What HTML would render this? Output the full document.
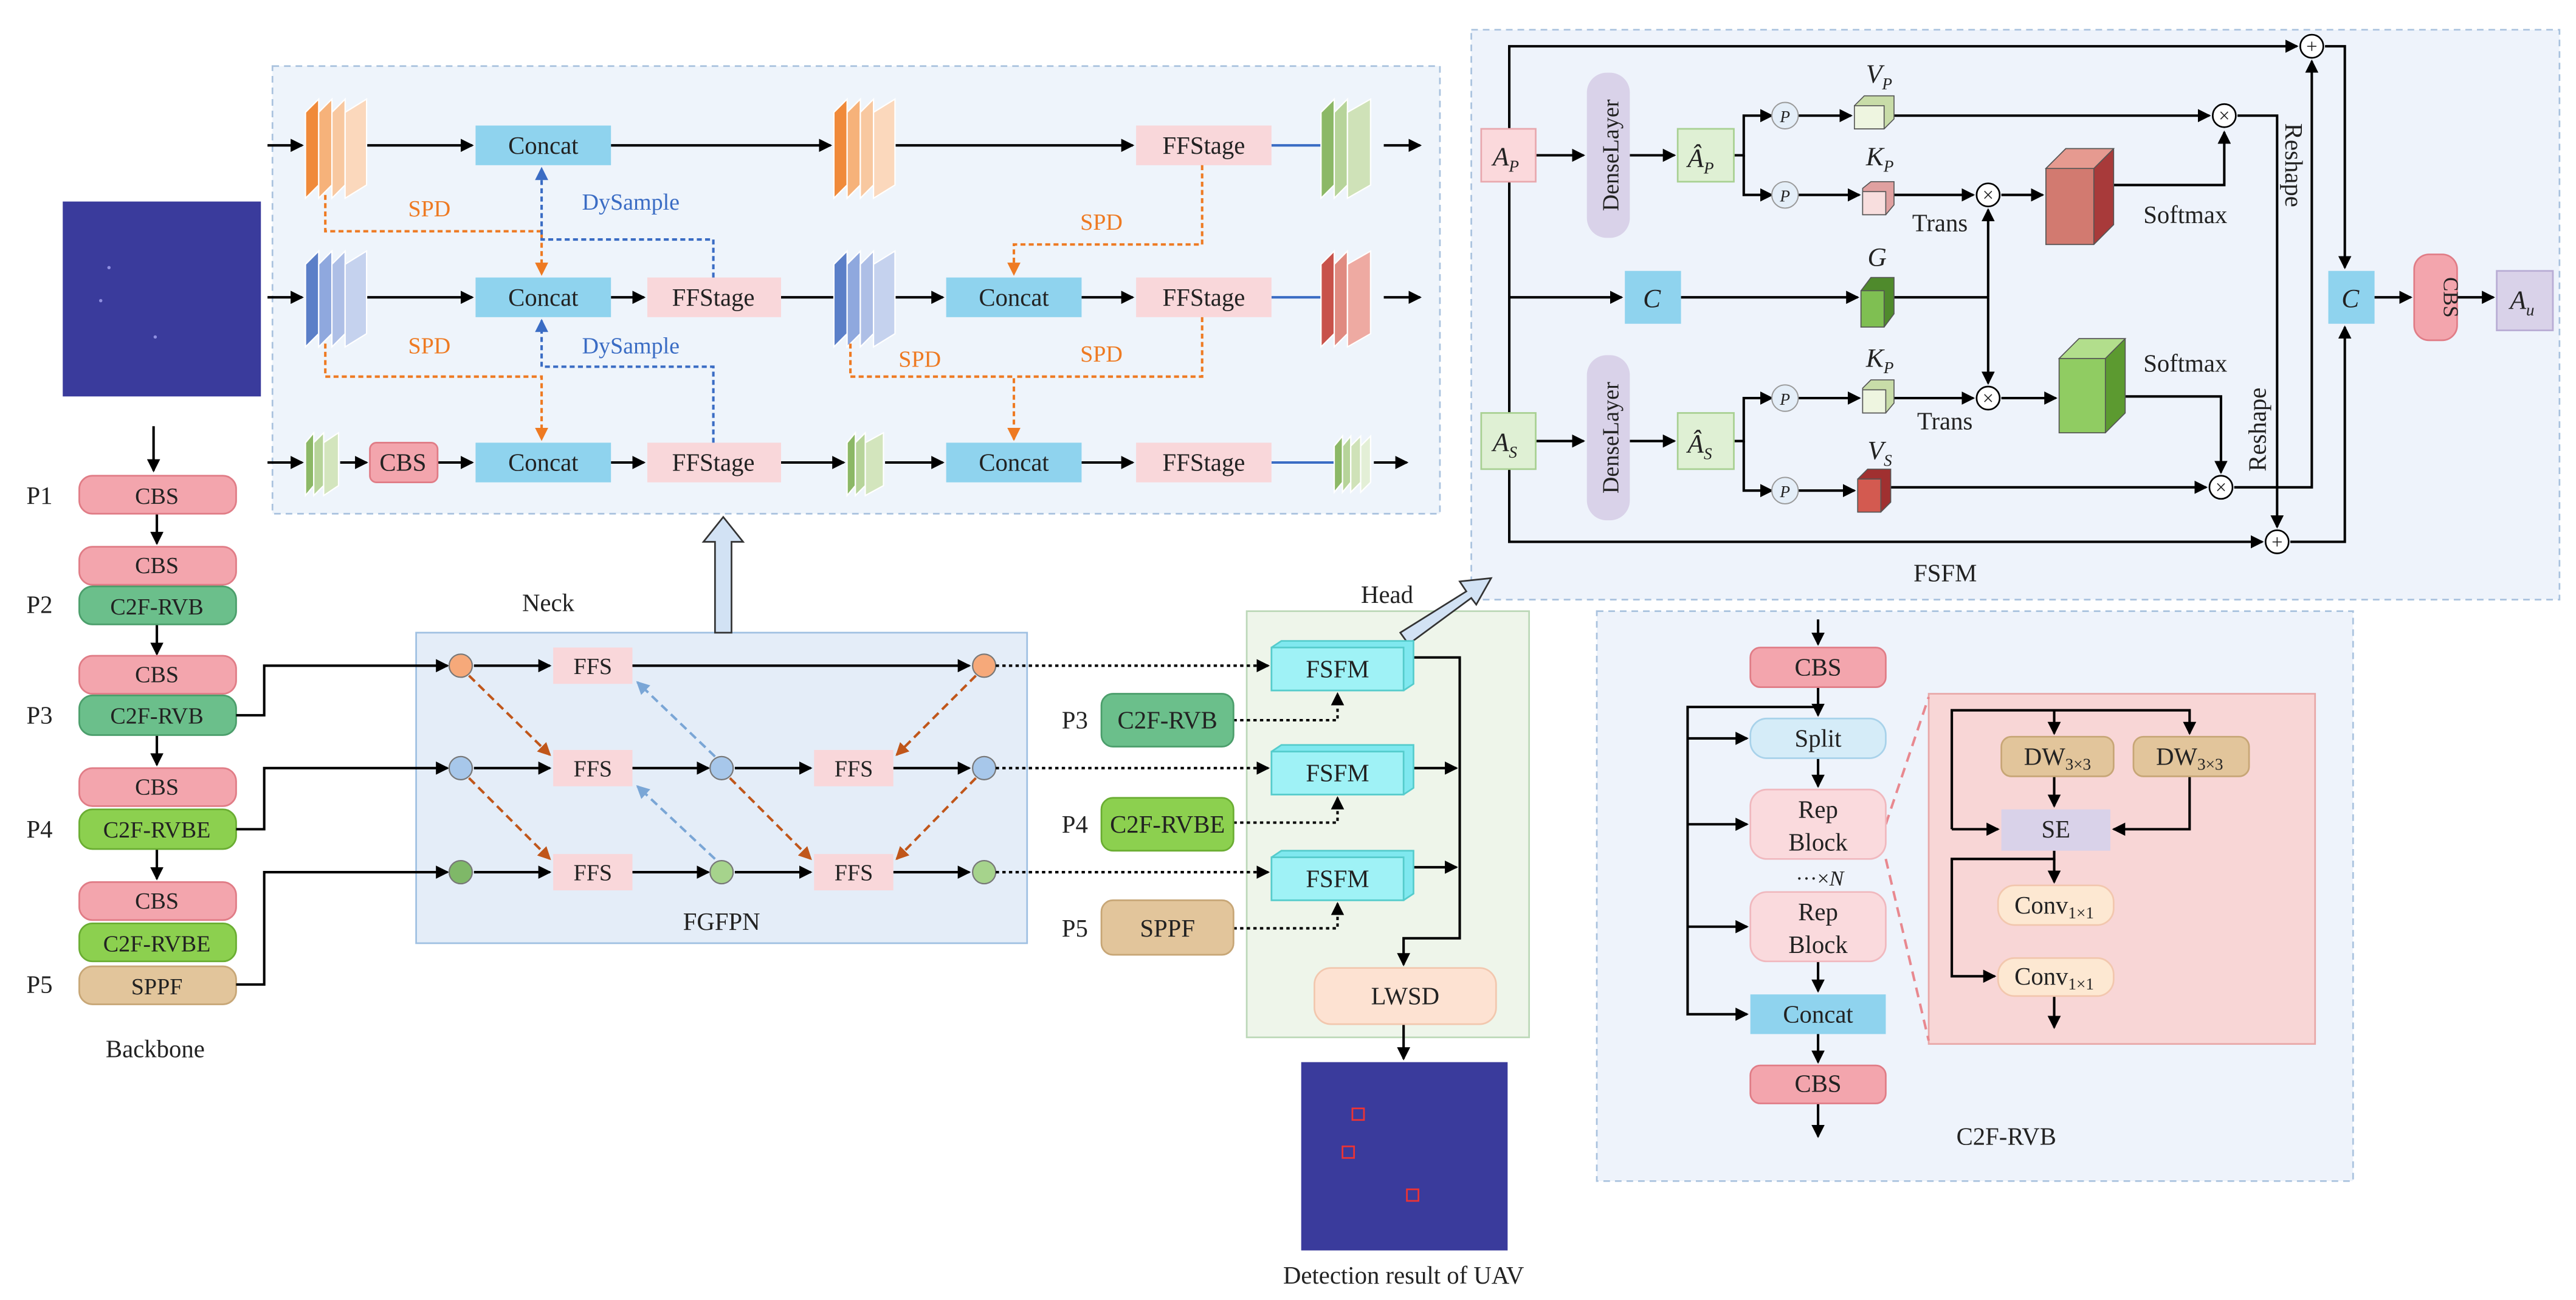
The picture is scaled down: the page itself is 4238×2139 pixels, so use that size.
<!DOCTYPE html>
<html><head><meta charset="utf-8"><style>
html,body{margin:0;padding:0;background:#fff}
svg{display:block}
text{font-family:"Liberation Serif",serif;fill:#222}
</style></head><body>
<svg width="4238" height="2139" viewBox="0 0 1560 787" preserveAspectRatio="none" xmlns="http://www.w3.org/2000/svg">
<defs>
<marker id="a" markerWidth="8" markerHeight="8" refX="7" refY="4" orient="auto" markerUnits="userSpaceOnUse"><path d="M0,0 L8,4 L0,8 z" fill="#000"/></marker>
<marker id="ao" markerWidth="8" markerHeight="8" refX="7" refY="4" orient="auto" markerUnits="userSpaceOnUse"><path d="M0,0 L8,4 L0,8 z" fill="#ee7a22"/></marker>
<marker id="ab" markerWidth="8" markerHeight="8" refX="7" refY="4" orient="auto" markerUnits="userSpaceOnUse"><path d="M0,0 L8,4 L0,8 z" fill="#3a6cc4"/></marker>
<marker id="abr" markerWidth="8" markerHeight="8" refX="7" refY="4" orient="auto" markerUnits="userSpaceOnUse"><path d="M0,0 L8,4 L0,8 z" fill="#c0561a"/></marker>
<marker id="alb" markerWidth="8" markerHeight="8" refX="7" refY="4" orient="auto" markerUnits="userSpaceOnUse"><path d="M0,0 L8,4 L0,8 z" fill="#7aa6d6"/></marker>
</defs>

<!-- panels -->
<rect x="165" y="40" width="707" height="271" fill="#eef4fb" stroke="#a9c2de" stroke-dasharray="4,3"/>
<rect x="891" y="18" width="659" height="345" fill="#eef3fb" stroke="#a9c2de" stroke-dasharray="4,3"/>
<rect x="967" y="370" width="458" height="345" fill="#eef3fb" stroke="#a9c2de" stroke-dasharray="4,3"/>
<rect x="252" y="383" width="370" height="188" fill="#e4edf8" stroke="#9fc0e2"/>
<rect x="755" y="370" width="171" height="258" fill="#eef5ea" stroke="#bcd8b8"/>

<!-- Backbone -->
<rect x="38" y="122" width="120" height="118" fill="#3a3b9c"/>
<circle cx="66" cy="162" r="1" fill="#8f8fe0"/><circle cx="61" cy="182" r="1" fill="#8f8fe0"/><circle cx="94" cy="204" r="1" fill="#8f8fe0"/>
<g stroke="#000" stroke-width="1.5" fill="none">
<line x1="93" y1="258" x2="93" y2="285" marker-end="url(#a)"/>
<line x1="95" y1="311" x2="95" y2="329" marker-end="url(#a)"/>
<line x1="95" y1="378" x2="95" y2="396" marker-end="url(#a)"/>
<line x1="95" y1="445" x2="95" y2="463" marker-end="url(#a)"/>
<line x1="95" y1="514" x2="95" y2="532" marker-end="url(#a)"/>
</g>
<g font-size="14" text-anchor="middle">
<rect x="48" y="288" width="95" height="23" rx="8" fill="#f3a5ad" stroke="#e07c86"/><text x="95" y="305">CBS</text>
<rect x="48" y="331" width="95" height="23" rx="8" fill="#f3a5ad" stroke="#e07c86"/><text x="95" y="347">CBS</text>
<rect x="48" y="355" width="95" height="23" rx="8" fill="#6bbf8b" stroke="#4b9e6b"/><text x="95" y="372">C2F-RVB</text>
<rect x="48" y="397" width="95" height="23" rx="8" fill="#f3a5ad" stroke="#e07c86"/><text x="95" y="413">CBS</text>
<rect x="48" y="421" width="95" height="24" rx="8" fill="#6bbf8b" stroke="#4b9e6b"/><text x="95" y="438">C2F-RVB</text>
<rect x="48" y="465" width="95" height="23" rx="8" fill="#f3a5ad" stroke="#e07c86"/><text x="95" y="481">CBS</text>
<rect x="48" y="490" width="95" height="24" rx="8" fill="#8cd04f" stroke="#6aad32"/><text x="95" y="507">C2F-RVBE</text>
<rect x="48" y="534" width="95" height="23" rx="8" fill="#f3a5ad" stroke="#e07c86"/><text x="95" y="550">CBS</text>
<rect x="48" y="559" width="95" height="23" rx="8" fill="#8cd04f" stroke="#6aad32"/><text x="95" y="576">C2F-RVBE</text>
<rect x="48" y="585" width="95" height="23" rx="8" fill="#e2c59b" stroke="#c7a676"/><text x="95" y="602">SPPF</text>
</g>
<g font-size="15"><text x="16" y="305">P1</text><text x="16" y="371">P2</text><text x="16" y="438">P3</text><text x="16" y="507">P4</text><text x="16" y="601">P5</text>
<text x="94" y="640" text-anchor="middle">Backbone</text></g>

<!-- Neck top panel -->
<g stroke="#000" stroke-width="1.5" fill="none">
<line x1="162" y1="88" x2="183" y2="88" marker-end="url(#a)"/>
<line x1="222" y1="88" x2="286" y2="88" marker-end="url(#a)"/>
<line x1="370" y1="88" x2="503" y2="88" marker-end="url(#a)"/>
<line x1="542" y1="88" x2="686" y2="88" marker-end="url(#a)"/>
<line x1="838" y1="88" x2="860" y2="88" marker-end="url(#a)"/>
<line x1="162" y1="180" x2="183" y2="180" marker-end="url(#a)"/>
<line x1="222" y1="180" x2="286" y2="180" marker-end="url(#a)"/>
<line x1="370" y1="180" x2="390" y2="180" marker-end="url(#a)"/>
<line x1="473" y1="180" x2="505" y2="180"/>
<line x1="542" y1="180" x2="571" y2="180" marker-end="url(#a)"/>
<line x1="655" y1="180" x2="686" y2="180" marker-end="url(#a)"/>
<line x1="838" y1="180" x2="860" y2="180" marker-end="url(#a)"/>
<line x1="162" y1="280" x2="183" y2="280" marker-end="url(#a)"/>
<line x1="206" y1="280" x2="222" y2="280" marker-end="url(#a)"/>
<line x1="265" y1="280" x2="286" y2="280" marker-end="url(#a)"/>
<line x1="370" y1="280" x2="390" y2="280" marker-end="url(#a)"/>
<line x1="473" y1="280" x2="511" y2="280" marker-end="url(#a)"/>
<line x1="536" y1="280" x2="571" y2="280" marker-end="url(#a)"/>
<line x1="655" y1="280" x2="686" y2="280" marker-end="url(#a)"/>
<line x1="832" y1="280" x2="852" y2="280" marker-end="url(#a)"/>
</g>
<g stroke="#3a6cc4" stroke-width="1.5"><line x1="770" y1="88" x2="800" y2="88"/><line x1="770" y1="180" x2="800" y2="180"/><line x1="770" y1="280" x2="808" y2="280"/></g>
<!-- stacks -->
<g stroke="#fff" stroke-width="0.8">
<polygon points="185,68 193,60 193,112 185,120" fill="#f08a3a"/><polygon points="193,68 201,60 201,112 193,120" fill="#f6b27a"/><polygon points="201,68 209,60 209,112 201,120" fill="#f8c8a0"/><polygon points="209,68 222,60 222,112 209,120" fill="#fbd8bc"/>
<polygon points="505,68 513,60 513,112 505,120" fill="#f08a3a"/><polygon points="513,68 521,60 521,112 513,120" fill="#f6b27a"/><polygon points="521,68 529,60 529,112 521,120" fill="#f8c8a0"/><polygon points="529,68 542,60 542,112 529,120" fill="#fbd8bc"/>
<polygon points="185,160 193,152 193,202 185,210" fill="#5b7fc8"/><polygon points="193,160 201,152 201,202 193,210" fill="#8fa8de"/><polygon points="201,160 209,152 209,202 201,210" fill="#aebfe6"/><polygon points="209,160 222,152 222,202 209,210" fill="#c5d2ee"/>
<polygon points="505,160 513,152 513,202 505,210" fill="#5b7fc8"/><polygon points="513,160 521,152 521,202 513,210" fill="#8fa8de"/><polygon points="521,160 529,152 529,202 521,210" fill="#aebfe6"/><polygon points="529,160 542,152 542,202 529,210" fill="#c5d2ee"/>
<polygon points="800,68 808,60 808,112 800,120" fill="#8cb866"/><polygon points="808,68 816,60 816,112 808,120" fill="#b7d49a"/><polygon points="816,68 830,60 830,112 816,120" fill="#cfe2b8"/>
<polygon points="800,160 808,152 808,202 800,210" fill="#c8524a"/><polygon points="808,160 816,152 816,202 808,210" fill="#e08a80"/><polygon points="816,160 830,152 830,202 816,210" fill="#eeaaa2"/>
<polygon points="185,268 190,262 190,294 185,300" fill="#8cb866"/><polygon points="190,268 196,262 196,294 190,300" fill="#b7d49a"/><polygon points="196,268 205,262 205,294 196,300" fill="#d3e5bd"/>
<polygon points="513,268 518,262 518,294 513,300" fill="#8cb866"/><polygon points="518,268 524,262 524,294 518,300" fill="#b7d49a"/><polygon points="524,268 535,262 535,294 524,300" fill="#d3e5bd"/>
<polygon points="808,270 813,264 813,292 808,298" fill="#8cb866"/><polygon points="813,270 818,264 818,292 813,298" fill="#b7d49a"/><polygon points="818,270 824,264 824,292 818,298" fill="#cfe2b8"/><polygon points="824,270 830,264 830,292 824,298" fill="#e3efd6"/>
</g>
<g font-size="15" text-anchor="middle" font-family="Liberation Mono">
<rect x="288" y="76" width="82" height="24" fill="#8fd3ee"/><text x="329" y="93">Concat</text>
<rect x="688" y="76" width="82" height="24" fill="#f9d7da"/><text x="729" y="93">FFStage</text>
<rect x="288" y="168" width="82" height="24" fill="#8fd3ee"/><text x="329" y="185">Concat</text>
<rect x="392" y="168" width="81" height="24" fill="#f9d7da"/><text x="432" y="185">FFStage</text>
<rect x="573" y="168" width="82" height="24" fill="#8fd3ee"/><text x="614" y="185">Concat</text>
<rect x="688" y="168" width="82" height="24" fill="#f9d7da"/><text x="729" y="185">FFStage</text>
<rect x="224" y="268" width="41" height="24" rx="4" fill="#f3a5ad" stroke="#e07c86"/><text x="244" y="285">CBS</text>
<rect x="288" y="268" width="82" height="24" fill="#8fd3ee"/><text x="329" y="285">Concat</text>
<rect x="392" y="268" width="81" height="24" fill="#f9d7da"/><text x="432" y="285">FFStage</text>
<rect x="573" y="268" width="82" height="24" fill="#8fd3ee"/><text x="614" y="285">Concat</text>
<rect x="688" y="268" width="82" height="24" fill="#f9d7da"/><text x="729" y="285">FFStage</text>
</g>
<g fill="none" stroke-width="1.5" stroke-dasharray="3,2">
<polyline points="197,118 197,140 328,140 328,166" stroke="#ee7a22" marker-end="url(#ao)"/>
<polyline points="197,208 197,228 328,228 328,266" stroke="#ee7a22" marker-end="url(#ao)"/>
<polyline points="728,100 728,148 614,148 614,166" stroke="#ee7a22" marker-end="url(#ao)"/>
<polyline points="515,208 515,228 614,228 614,266" stroke="#ee7a22" marker-end="url(#ao)"/>
<polyline points="728,192 728,228 614,228" stroke="#ee7a22"/>
<polyline points="432,168 432,145 328,145 328,102" stroke="#3a6cc4" marker-end="url(#ab)"/>
<polyline points="432,268 432,222 328,222 328,194" stroke="#3a6cc4" marker-end="url(#ab)"/>
</g>
<g font-size="14" font-family="Liberation Mono" text-anchor="middle">
<text x="260" y="131" style="fill:#ee7a22">SPD</text><text x="260" y="214" style="fill:#ee7a22">SPD</text>
<text x="667" y="139" style="fill:#ee7a22">SPD</text><text x="557" y="222" style="fill:#ee7a22">SPD</text><text x="667" y="219" style="fill:#ee7a22">SPD</text>
<text x="382" y="127" style="fill:#3a6cc4">DySample</text><text x="382" y="214" style="fill:#3a6cc4">DySample</text>
</g>
<!-- hollow arrows -->
<polygon points="433,383 433,328 426,328 438,313 450,328 443,328 443,383" fill="#d2e2f4" stroke="#333"/>
<polygon points="848,383 888,358 884,352 903,350 894,366 891,362 853,390" fill="#d2e2f4" stroke="#333"/>

<!-- FGFPN -->
<text x="332" y="370" font-size="15" text-anchor="middle">Neck</text>
<text x="437" y="563" font-size="15" text-anchor="middle">FGFPN</text>
<g stroke="#000" stroke-width="1.5" fill="none">
<polyline points="143,433 160,433 160,403 271,403" marker-end="url(#a)"/>
<polyline points="143,502 160,502 160,465 271,465" marker-end="url(#a)"/>
<polyline points="143,596 160,596 160,528 271,528" marker-end="url(#a)"/>
<line x1="287" y1="403" x2="333" y2="403" marker-end="url(#a)"/>
<line x1="287" y1="465" x2="333" y2="465" marker-end="url(#a)"/>
<line x1="287" y1="528" x2="333" y2="528" marker-end="url(#a)"/>
<line x1="383" y1="403" x2="587" y2="403" marker-end="url(#a)"/>
<line x1="383" y1="465" x2="429" y2="465" marker-end="url(#a)"/>
<line x1="445" y1="465" x2="491" y2="465" marker-end="url(#a)"/>
<line x1="541" y1="465" x2="587" y2="465" marker-end="url(#a)"/>
<line x1="383" y1="528" x2="429" y2="528" marker-end="url(#a)"/>
<line x1="445" y1="528" x2="491" y2="528" marker-end="url(#a)"/>
<line x1="541" y1="528" x2="587" y2="528" marker-end="url(#a)"/>
</g>
<g stroke="#c0561a" stroke-width="1.5" stroke-dasharray="5,3" fill="none">
<line x1="284" y1="409" x2="333" y2="457" marker-end="url(#abr)"/>
<line x1="284" y1="471" x2="333" y2="520" marker-end="url(#abr)"/>
<line x1="442" y1="471" x2="491" y2="520" marker-end="url(#abr)"/>
<line x1="591" y1="409" x2="543" y2="457" marker-end="url(#abr)"/>
<line x1="591" y1="471" x2="543" y2="520" marker-end="url(#abr)"/>
</g>
<g stroke="#7aa6d6" stroke-width="1.5" stroke-dasharray="5,3" fill="none">
<line x1="433" y1="458" x2="386" y2="413" marker-end="url(#alb)"/>
<line x1="433" y1="520" x2="386" y2="476" marker-end="url(#alb)"/>
</g>
<g font-size="14" text-anchor="middle" font-family="Liberation Mono">
<rect x="335" y="392" width="48" height="22" fill="#f9d7da"/><text x="359" y="408">FFS</text>
<rect x="335" y="454" width="48" height="22" fill="#f9d7da"/><text x="359" y="470">FFS</text>
<rect x="493" y="454" width="48" height="22" fill="#f9d7da"/><text x="517" y="470">FFS</text>
<rect x="335" y="517" width="48" height="22" fill="#f9d7da"/><text x="359" y="533">FFS</text>
<rect x="493" y="517" width="48" height="22" fill="#f9d7da"/><text x="517" y="533">FFS</text>
</g>
<g stroke="#777" stroke-width="0.8">
<circle cx="279" cy="403" r="7" fill="#f6a97a"/><circle cx="596" cy="403" r="7" fill="#f6a97a"/>
<circle cx="279" cy="465" r="7" fill="#a7c7ea"/><circle cx="437" cy="465" r="7" fill="#a7c7ea"/><circle cx="596" cy="465" r="7" fill="#a7c7ea"/>
<circle cx="279" cy="528" r="7" fill="#7fb868"/><circle cx="437" cy="528" r="7" fill="#a6d38c"/><circle cx="596" cy="528" r="7" fill="#a6d38c"/>
</g>

<!-- Head -->
<text x="840" y="365" font-size="15" text-anchor="middle">Head</text>
<g stroke="#000" stroke-width="1.5" fill="none" stroke-dasharray="2,2">
<line x1="603" y1="403" x2="768" y2="403" marker-end="url(#a)"/>
<line x1="603" y1="465" x2="768" y2="465" marker-end="url(#a)"/>
<line x1="603" y1="528" x2="768" y2="528" marker-end="url(#a)"/>
<polyline points="747,436 810,436 810,420" marker-end="url(#a)"/>
<polyline points="747,498 810,498 810,483" marker-end="url(#a)"/>
<polyline points="747,562 810,562 810,547" marker-end="url(#a)"/>
</g>
<g stroke="#000" stroke-width="1.5" fill="none">
<polyline points="852,398 884,398 884,568 850,568 850,584" marker-end="url(#a)"/>
<line x1="852" y1="465" x2="882" y2="465" marker-end="url(#a)"/>
<line x1="852" y1="525" x2="882" y2="525" marker-end="url(#a)"/>
<line x1="850" y1="620" x2="850" y2="641" marker-end="url(#a)"/>
</g>
<g font-size="15" text-anchor="middle" font-family="Liberation Mono">
<polygon points="770,392 776,388 856,388 856,414 850,418 770,418" fill="#7fe8ef" stroke="#5cc"/><rect x="770" y="392" width="80" height="26" fill="#9ff2f6" stroke="#5cc"/><text x="810" y="410">FSFM</text>
<polygon points="770,455 776,451 856,451 856,477 850,481 770,481" fill="#7fe8ef" stroke="#5cc"/><rect x="770" y="455" width="80" height="26" fill="#9ff2f6" stroke="#5cc"/><text x="810" y="473">FSFM</text>
<polygon points="770,519 776,515 856,515 856,541 850,545 770,545" fill="#7fe8ef" stroke="#5cc"/><rect x="770" y="519" width="80" height="26" fill="#9ff2f6" stroke="#5cc"/><text x="810" y="537">FSFM</text>
<rect x="667" y="420" width="80" height="32" rx="7" fill="#6bbf8b" stroke="#4b9e6b"/><text x="707" y="441">C2F-RVB</text>
<rect x="667" y="483" width="80" height="32" rx="7" fill="#8cd04f" stroke="#6aad32"/><text x="707" y="504">C2F-RVBE</text>
<rect x="667" y="545" width="80" height="33" rx="7" fill="#e2c59b" stroke="#c7a676"/><text x="707" y="567">SPPF</text>
<rect x="796" y="586" width="110" height="34" rx="10" fill="#fde2d2" stroke="#f2c7ae"/><text x="851" y="608">LWSD</text>
</g>
<g font-size="15"><text x="643" y="441">P3</text><text x="643" y="504">P4</text><text x="643" y="567">P5</text></g>
<rect x="788" y="643" width="125" height="114" fill="#3a3b9c"/>
<rect x="819" y="671" width="7" height="7" fill="none" stroke="#e33" stroke-width="1"/>
<rect x="813" y="694" width="7" height="7" fill="none" stroke="#e33" stroke-width="1"/>
<rect x="852" y="720" width="7" height="7" fill="none" stroke="#e33" stroke-width="1"/>
<text x="850" y="777" font-size="15" text-anchor="middle">Detection result of UAV</text>

<!-- FSFM -->
<text x="1178" y="352" font-size="15" text-anchor="middle" font-family="Liberation Mono">FSFM</text>
<g stroke="#000" stroke-width="1.5" fill="none">
<polyline points="914,78 914,28 1391,28" marker-end="url(#a)"/>
<polyline points="1408,28 1420,28 1420,162" marker-end="url(#a)"/>
<polyline points="914,110 914,328 1370,328" marker-end="url(#a)"/>
<polyline points="1387,328 1420,328 1420,198" marker-end="url(#a)"/>
<line x1="914" y1="180" x2="982" y2="180" marker-end="url(#a)"/>
<line x1="1018" y1="180" x2="1125" y2="180" marker-end="url(#a)"/>
<polyline points="1145,180 1204,180"/>
<line x1="1204" y1="180" x2="1204" y2="127" marker-end="url(#a)"/>
<line x1="1204" y1="180" x2="1204" y2="232" marker-end="url(#a)"/>
<line x1="930" y1="94" x2="959" y2="94" marker-end="url(#a)"/>
<line x1="987" y1="94" x2="1014" y2="94" marker-end="url(#a)"/>
<polyline points="1050,94 1056,94 1056,70 1073,70" marker-end="url(#a)"/>
<polyline points="1056,94 1056,118 1073,118" marker-end="url(#a)"/>
<line x1="1089" y1="70" x2="1121" y2="70" marker-end="url(#a)"/>
<line x1="1089" y1="118" x2="1126" y2="118" marker-end="url(#a)"/>
<line x1="1147" y1="70" x2="1338" y2="70" marker-end="url(#a)"/>
<line x1="1147" y1="118" x2="1195" y2="118" marker-end="url(#a)"/>
<line x1="1212" y1="118" x2="1237" y2="118" marker-end="url(#a)"/>
<polyline points="1280,112 1347,112 1347,80" marker-end="url(#a)"/>
<polyline points="1355,70 1379,70 1379,319" marker-end="url(#a)"/>
<line x1="914" y1="267" x2="895" y2="267" stroke="none"/>
<line x1="930" y1="267" x2="959" y2="267" marker-end="url(#a)"/>
<line x1="987" y1="267" x2="1014" y2="267" marker-end="url(#a)"/>
<polyline points="1050,267 1056,267 1056,241 1073,241" marker-end="url(#a)"/>
<polyline points="1056,267 1056,297 1073,297" marker-end="url(#a)"/>
<line x1="1089" y1="241" x2="1126" y2="241" marker-end="url(#a)"/>
<line x1="1089" y1="297" x2="1123" y2="297" marker-end="url(#a)"/>
<line x1="1147" y1="241" x2="1195" y2="241" marker-end="url(#a)"/>
<line x1="1212" y1="241" x2="1245" y2="241" marker-end="url(#a)"/>
<polyline points="1287,240 1345,240 1345,286" marker-end="url(#a)"/>
<line x1="1145" y1="295" x2="1336" y2="295" marker-end="url(#a)"/>
<polyline points="1353,295 1400,295 1400,37" marker-end="url(#a)"/>
<line x1="1438" y1="180" x2="1460" y2="180" marker-end="url(#a)"/>
<line x1="1488" y1="180" x2="1510" y2="180" marker-end="url(#a)"/>
</g>
<g font-size="16">
<rect x="897" y="78" width="33" height="32" fill="#fbd9dc" stroke="#e8a8ae"/><text x="904" y="100" font-style="italic">A<tspan font-size="10" dy="4">P</tspan></text>
<rect x="897" y="250" width="33" height="34" fill="#dff0d4" stroke="#a8d092"/><text x="904" y="273" font-style="italic">A<tspan font-size="10" dy="4">S</tspan></text>
<rect x="1016" y="78" width="34" height="32" fill="#dff0d4" stroke="#a8d092"/><text x="1022" y="101" font-style="italic">Â<tspan font-size="10" dy="4">P</tspan></text>
<rect x="1016" y="250" width="34" height="34" fill="#dff0d4" stroke="#a8d092"/><text x="1022" y="274" font-style="italic">Â<tspan font-size="10" dy="4">S</tspan></text>
<rect x="961" y="44" width="26" height="100" rx="12" fill="#d9d2e9"/>
<rect x="961" y="215" width="26" height="100" rx="12" fill="#d9d2e9"/>
<text transform="translate(980,94) rotate(-90)" text-anchor="middle" font-size="14">DenseLayer</text>
<text transform="translate(980,265) rotate(-90)" text-anchor="middle" font-size="14">DenseLayer</text>
<rect x="984" y="164" width="34" height="32" fill="#8fd3ee"/><text x="995" y="186" font-style="italic">C</text>
<rect x="1410" y="164" width="28" height="32" fill="#8fd3ee"/><text x="1418" y="186" font-style="italic">C</text>
<rect x="1462" y="154" width="26" height="52" rx="9" fill="#f3a5ad" stroke="#e07c86"/>
<text transform="translate(1480,180) rotate(90)" text-anchor="middle" font-size="13">CBS</text>
<rect x="1512" y="164" width="34" height="36" fill="#d9d2e9" stroke="#b8acd4"/><text x="1520" y="187" font-style="italic">A<tspan font-size="10" dy="4">u</tspan></text>
</g>
<g stroke="#999" stroke-width="0.7" fill="#e4eef8">
<circle cx="1081" cy="70" r="8"/><circle cx="1081" cy="118" r="8"/><circle cx="1081" cy="241" r="8"/><circle cx="1081" cy="297" r="8"/>
</g>
<g font-size="10" font-style="italic" text-anchor="middle"><text x="1081" y="74">P</text><text x="1081" y="122">P</text><text x="1081" y="245">P</text><text x="1081" y="301">P</text></g>
<!-- cubes -->
<g stroke="#555" stroke-width="0.6">
<polygon points="1123,64 1129,58 1147,58 1147,72 1141,78 1123,78" fill="#c8dca8"/><rect x="1123" y="64" width="18" height="14" fill="#eef5e0"/>
<polygon points="1128,114 1133,110 1147,110 1147,124 1142,130 1128,130" fill="#e0a0a0"/><rect x="1128" y="116" width="14" height="14" fill="#f8dede"/>
<polygon points="1127,176 1133,168 1147,168 1147,190 1141,198 1127,198" fill="#4f8a2c"/><rect x="1127" y="176" width="14" height="22" fill="#7fbf52"/>
<polygon points="1128,235 1133,230 1147,230 1147,244 1142,250 1128,250" fill="#c8dca8"/><rect x="1128" y="236" width="14" height="14" fill="#eef5e0"/>
<polygon points="1125,290 1131,284 1145,284 1145,304 1139,310 1125,310" fill="#a03030"/><rect x="1125" y="290" width="14" height="20" fill="#d35a50"/>
<polygon points="1239,102 1251,90 1280,90 1280,136 1268,148 1239,148" fill="#a83a3a"/><rect x="1239" y="102" width="29" height="46" fill="#d27a70"/><polygon points="1239,102 1251,90 1280,90 1268,102" fill="#e69a90"/>
<polygon points="1247,217 1259,205 1287,205 1287,250 1275,262 1247,262" fill="#5c9a30"/><rect x="1247" y="217" width="28" height="45" fill="#90cc62"/><polygon points="1247,217 1259,205 1287,205 1275,217" fill="#b2de8c"/>
</g>
<g font-size="16" font-style="italic">
<text x="1130" y="50">V<tspan font-size="10" dy="4">P</tspan></text>
<text x="1130" y="100">K<tspan font-size="10" dy="4">P</tspan></text>
<text x="1131" y="161">G</text>
<text x="1130" y="222">K<tspan font-size="10" dy="4">P</tspan></text>
<text x="1131" y="278">V<tspan font-size="10" dy="4">S</tspan></text>
</g>
<g font-size="15"><text x="1298" y="135">Softmax</text><text x="1298" y="225">Softmax</text><text x="1158" y="140">Trans</text><text x="1161" y="260">Trans</text></g>
<text transform="translate(1384,100) rotate(90)" text-anchor="middle" font-size="15">Reshape</text>
<text transform="translate(1372,260) rotate(-90)" text-anchor="middle" font-size="15">Reshape</text>
<g stroke="#000" fill="#fff" stroke-width="1">
<circle cx="1347" cy="70" r="7"/><circle cx="1204" cy="118" r="7"/><circle cx="1204" cy="241" r="7"/><circle cx="1345" cy="295" r="7"/>
<circle cx="1400" cy="28" r="7"/><circle cx="1379" cy="328" r="7"/>
</g>
<g font-size="12" text-anchor="middle"><text x="1347" y="74">×</text><text x="1204" y="122">×</text><text x="1204" y="245">×</text><text x="1345" y="299">×</text><text x="1400" y="32">+</text><text x="1379" y="332">+</text></g>

<!-- C2F-RVB -->
<text x="1215" y="693" font-size="15" text-anchor="middle" font-family="Liberation Mono">C2F-RVB</text>
<rect x="1168" y="420" width="234" height="212" fill="#f8d6d6" stroke="#e8a8a8"/>
<g stroke="#e8888f" stroke-width="1.5" stroke-dasharray="6,4"><line x1="1142" y1="499" x2="1168" y2="422"/><line x1="1142" y1="520" x2="1168" y2="630"/></g>
<g stroke="#000" stroke-width="1.5" fill="none">
<line x1="1101" y1="375" x2="1101" y2="390" marker-end="url(#a)"/>
<line x1="1101" y1="416" x2="1101" y2="433" marker-end="url(#a)"/>
<line x1="1101" y1="459" x2="1101" y2="476" marker-end="url(#a)"/>
<line x1="1101" y1="582" x2="1101" y2="600" marker-end="url(#a)"/>
<line x1="1101" y1="626" x2="1101" y2="643" marker-end="url(#a)"/>
<line x1="1101" y1="668" x2="1101" y2="688" marker-end="url(#a)"/>
<polyline points="1101,428 1022,428 1022,614 1058,614" marker-end="url(#a)"/>
<line x1="1022" y1="447" x2="1058" y2="447" marker-end="url(#a)"/>
<line x1="1022" y1="499" x2="1058" y2="499" marker-end="url(#a)"/>
<line x1="1022" y1="561" x2="1058" y2="561" marker-end="url(#a)"/>
<polyline points="1182,502 1182,430 1326,430 1326,444" marker-end="url(#a)"/>
<line x1="1244" y1="430" x2="1244" y2="444" marker-end="url(#a)"/>
<line x1="1182" y1="502" x2="1210" y2="502" marker-end="url(#a)"/>
<polyline points="1326,470 1326,502 1280,502" marker-end="url(#a)"/>
<line x1="1244" y1="470" x2="1244" y2="488" marker-end="url(#a)"/>
<polyline points="1244,515 1244,520 1182,520 1182,591 1208,591" marker-end="url(#a)"/>
<line x1="1244" y1="520" x2="1244" y2="534" marker-end="url(#a)"/>
<line x1="1244" y1="603" x2="1244" y2="622" marker-end="url(#a)"/>
</g>
<g font-size="15" text-anchor="middle" font-family="Liberation Mono">
<rect x="1060" y="392" width="82" height="24" rx="6" fill="#f3a5ad" stroke="#e07c86"/><text x="1101" y="409">CBS</text>
<rect x="1060" y="435" width="82" height="24" rx="10" fill="#d5ecf8" stroke="#a8d2ea"/><text x="1101" y="452">Split</text>
<rect x="1060" y="478" width="82" height="42" rx="10" fill="#fadadd" stroke="#f0b8be"/><text x="1101" y="495">Rep</text><text x="1101" y="515">Block</text>
<rect x="1060" y="540" width="82" height="42" rx="10" fill="#fadadd" stroke="#f0b8be"/><text x="1101" y="557">Rep</text><text x="1101" y="577">Block</text>
<rect x="1060" y="602" width="82" height="24" fill="#8fd3ee"/><text x="1101" y="619">Concat</text>
<rect x="1060" y="645" width="82" height="23" rx="6" fill="#f3a5ad" stroke="#e07c86"/><text x="1101" y="661">CBS</text>
<rect x="1212" y="446" width="68" height="24" rx="6" fill="#e2c59b" stroke="#c7a676"/><text x="1246" y="463">DW<tspan font-size="10" dy="3">3×3</tspan></text>
<rect x="1292" y="446" width="70" height="24" rx="6" fill="#e2c59b" stroke="#c7a676"/><text x="1326" y="463">DW<tspan font-size="10" dy="3">3×3</tspan></text>
<rect x="1212" y="490" width="66" height="25" fill="#d9d2e9"/><text x="1245" y="507">SE</text>
<rect x="1210" y="536" width="70" height="24" rx="10" fill="#fde8d2" stroke="#f2c7ae"/><text x="1244" y="553">Conv<tspan font-size="10" dy="3">1×1</tspan></text>
<rect x="1210" y="580" width="70" height="23" rx="10" fill="#fde8d2" stroke="#f2c7ae"/><text x="1244" y="596">Conv<tspan font-size="10" dy="3">1×1</tspan></text>
</g>
<text x="1102" y="536" font-size="13" text-anchor="middle">···×<tspan font-style="italic">N</tspan></text>
</svg>
</body></html>
